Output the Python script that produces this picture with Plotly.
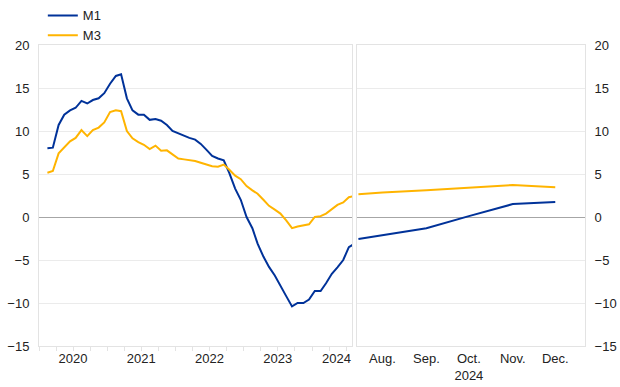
import plotly.graph_objects as go
import pandas as pd

# Left panel: monthly annual growth rates, Jan 2020 - Jul 2024 (mid-month points)
left_dates = pd.date_range("2020-01-15", periods=55, freq="MS") + pd.Timedelta(days=14)
m1_left = [8.0, 8.06, 10.7, 11.9, 12.4, 12.7, 13.5, 13.2, 13.6, 13.8, 14.4, 15.5,
           16.4, 16.6, 13.8, 12.4, 11.9, 11.9, 11.3, 11.4, 11.2, 10.7, 10.0, 9.7,
           9.4, 9.2, 9.0, 8.5, 7.8, 7.1, 6.8, 6.6, 5.1, 3.3, 2.0, 0.0,
           -1.3, -3.1, -4.6, -5.8, -6.8, -7.9, -9.2, -10.4, -10.0, -10.0, -9.6, -8.6,
           -8.6, -7.7, -6.6, -5.85, -5.0, -3.5, -3.1]
m3_left = [5.15, 5.35, 7.4, 8.1, 8.8, 9.2, 10.1, 9.4, 10.1, 10.4, 11.0, 12.2,
           12.4, 12.3, 10.0, 9.15, 8.7, 8.4, 7.9, 8.3, 7.7, 7.75, 7.3, 6.8,
           6.7, 6.6, 6.5, 6.3, 6.1, 5.9, 5.85, 6.1, 5.5, 4.8, 4.4, 3.6,
           3.1, 2.7, 2.0, 1.3, 0.85, 0.4, -0.4, -1.3, -1.1, -1.0, -0.85, 0.0,
           0.1, 0.4, 0.9, 1.4, 1.7, 2.3, 2.45]

# Right panel: Aug - Dec 2024
right_dates = ["2024-07-15", "2024-08-01", "2024-09-01", "2024-10-01", "2024-11-01", "2024-12-01"]
m1_right = [-2.55, -2.08, -1.3, 0.1, 1.5, 1.75]
m3_right = [2.65, 2.85, 3.1, 3.4, 3.72, 3.45]

left_tickvals = ["2020-07-01", "2021-07-01", "2022-07-01", "2023-07-01", "2024-05-10"]
left_ticktext = ["2020", "2021", "2022", "2023", "2024"]
right_tickvals = ["2024-08-01", "2024-09-01", "2024-10-01", "2024-11-01", "2024-12-01"]
right_ticktext = ["Aug.", "Sep.", "Oct.<br>2024", "Nov.", "Dec."]
quarter_ticks = pd.date_range("2020-01-01", "2024-07-01", freq="QS").strftime("%Y-%m-%d").tolist()

BLUE = "#003299"
YELLOW = "#FFB400"
GRID = "#ebebeb"
FRAME = "#e3e3e3"

fig = go.Figure()
fig.add_trace(go.Scatter(x=left_dates, y=m1_left, mode="lines", name="M1",
                         line=dict(color=BLUE, width=2), xaxis="x", yaxis="y"))
fig.add_trace(go.Scatter(x=left_dates, y=m3_left, mode="lines", name="M3",
                         line=dict(color=YELLOW, width=2), xaxis="x", yaxis="y"))
fig.add_trace(go.Scatter(x=right_dates, y=m1_right, mode="lines", name="M1",
                         line=dict(color=BLUE, width=2), xaxis="x2", yaxis="y2",
                         showlegend=False))
fig.add_trace(go.Scatter(x=right_dates, y=m3_right, mode="lines", name="M3",
                         line=dict(color=YELLOW, width=2), xaxis="x2", yaxis="y2",
                         showlegend=False))

font = dict(family="Liberation Sans, Arial, sans-serif", size=13, color="#222222")

fig.update_layout(
    width=620, height=387,
    margin=dict(l=39, r=35, t=45, b=41, autoexpand=False),
    paper_bgcolor="white", plot_bgcolor="white",
    font=font,
    showlegend=True,
    legend=dict(x=0.007, y=1.148, xanchor="left", yanchor="top",
                bgcolor="rgba(0,0,0,0)", font=dict(size=13), tracegroupgap=0,
                itemwidth=30),
    xaxis=dict(domain=[0, 0.5733], type="date",
               range=["2020-01-01", "2024-08-01"],
               tickmode="array", tickvals=left_tickvals, ticktext=left_ticktext,
               ticks="", showgrid=False, automargin=False,
               showline=True, linecolor=FRAME, linewidth=1, mirror=True,
               minor=dict(tickmode="array", tickvals=quarter_ticks, ticks="outside",
                          ticklen=4, tickcolor=FRAME, showgrid=False),
               anchor="y", fixedrange=True),
    yaxis=dict(range=[-15, 20], dtick=5, tick0=0, showgrid=True, gridcolor=GRID,
               zeroline=True, zerolinecolor="#a6a6a6", zerolinewidth=1,
               showline=True, linecolor=FRAME, linewidth=1, mirror=True,
               ticks="", anchor="x", ticklabelstandoff=6, automargin=False),
    xaxis2=dict(domain=[0.5824, 1], type="date",
                range=["2024-07-14", "2024-12-22"],
                tickmode="array", tickvals=right_tickvals, ticktext=right_ticktext,
                ticks="", showgrid=False, automargin=False,
                showline=True, linecolor=FRAME, linewidth=1, mirror=True,
                anchor="y2"),
    yaxis2=dict(range=[-15, 20], dtick=5, tick0=0, showgrid=True, gridcolor=GRID,
                zeroline=True, zerolinecolor="#a6a6a6", zerolinewidth=1,
                showline=True, linecolor=FRAME, linewidth=1, mirror=True,
                ticks="", anchor="x2", side="right", ticklabelstandoff=6,
                automargin=False),
)

fig.write_html("out.html", config={"displayModeBar": False},
               post_script="document.body.style.margin='0';document.body.style.padding='0';")
